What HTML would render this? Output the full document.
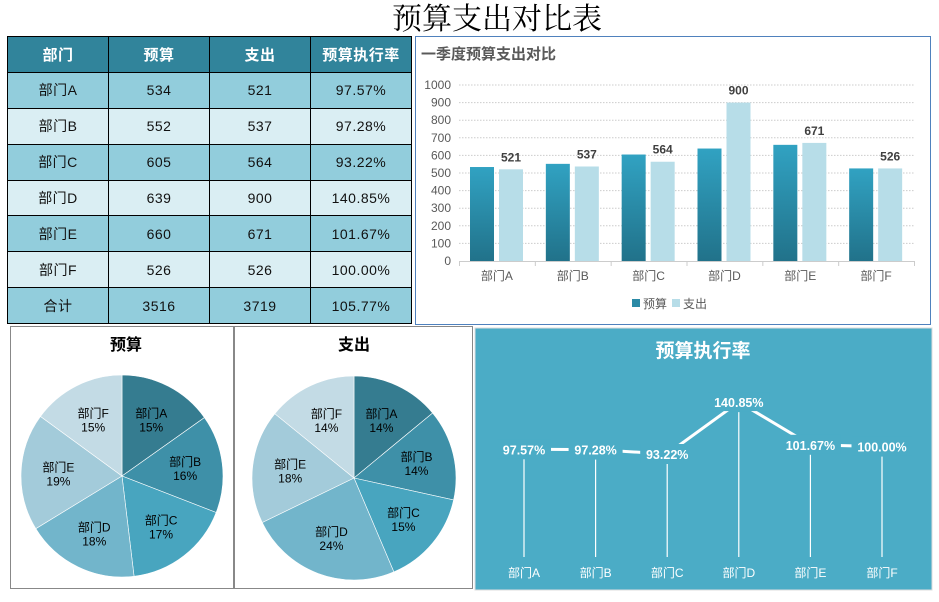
<!DOCTYPE html>
<html><head><meta charset="utf-8">
<style>
body{margin:0;width:939px;height:602px;background:#fff;position:relative;overflow:hidden;font-family:"Liberation Sans","Noto Sans CJK SC",sans-serif}
.abs{position:absolute}
table{border-collapse:collapse;position:absolute;left:7px;top:36px}
td{border:1.5px solid #000;width:100px;height:34.9px;text-align:center;font-size:14px;font-family:"Liberation Sans","Noto Sans CJK SC",sans-serif;color:#111;padding:0;letter-spacing:0.5px}
tr.h td{background:#31849B;color:#fff;font-weight:bold;font-size:15px}
tr.o td{background:#92CDDC}
tr.e td{background:#DAEEF3}
</style></head><body>
<div class="abs" style="left:0;width:994px;top:0;text-align:center;font-size:30px;font-family:'Liberation Serif','Noto Serif CJK SC',serif;line-height:40px">预算支出对比表</div>
<table>
<tr class="h"><td>部门</td><td>预算</td><td>支出</td><td>预算执行率</td></tr>
<tr class="o"><td>部门A</td><td>534</td><td>521</td><td>97.57%</td></tr>
<tr class="e"><td>部门B</td><td>552</td><td>537</td><td>97.28%</td></tr>
<tr class="o"><td>部门C</td><td>605</td><td>564</td><td>93.22%</td></tr>
<tr class="e"><td>部门D</td><td>639</td><td>900</td><td>140.85%</td></tr>
<tr class="o"><td>部门E</td><td>660</td><td>671</td><td>101.67%</td></tr>
<tr class="e"><td>部门F</td><td>526</td><td>526</td><td>100.00%</td></tr>
<tr class="o"><td>合计</td><td>3516</td><td>3719</td><td>105.77%</td></tr>
</table>
<svg class="abs" style="left:0;top:0" width="939" height="602" id="s">
<defs><linearGradient id="g" x1="0" y1="0" x2="0" y2="1"><stop offset="0" stop-color="#31A2C2"/><stop offset="1" stop-color="#21728A"/></linearGradient></defs>
<rect x="415.5" y="36.5" width="515" height="288" fill="#fff" stroke="#4F81BD"/>
<text x="421" y="59" font-size="15" font-weight="bold" fill="#595959">一季度预算支出对比</text>
<rect x="10.5" y="326.5" width="223" height="262" fill="#fff" stroke="#888"/>
<rect x="234.5" y="326.5" width="238" height="262" fill="#fff" stroke="#888"/>
<text x="126" y="350" font-size="16" font-weight="bold" text-anchor="middle">预算</text>
<text x="354" y="350" font-size="16" font-weight="bold" text-anchor="middle">支出</text>
<rect x="475" y="328" width="457" height="262" fill="#4BACC6" stroke="#ddd"/>
<text x="703" y="357" font-size="19" font-weight="bold" fill="#fff" text-anchor="middle">预算执行率</text>
<g id="bar"></g><g id="pie"></g><g id="line"></g>
</svg>
<script>
const cats=['部门A','部门B','部门C','部门D','部门E','部门F'];
const budget=[534,552,605,639,660,526];
const spend=[521,537,564,900,671,526];
const rate=[97.57,97.28,93.22,140.85,101.67,100.00];
const yTicks=[0,100,200,300,400,500,600,700,800,900,1000];
const NS='http://www.w3.org/2000/svg';
function mk(p,t,a,txt){const e=document.createElementNS(NS,t);for(const k in a)e.setAttribute(k,a[k]);if(txt!=null)e.textContent=txt;p.appendChild(e);return e;}
// bar chart
const B=document.getElementById('bar');
const x0=459,x1=914,yb=261,yt=85;
const Y=v=>yb-(v/1000)*(yb-yt);
const gw=(x1-x0)/cats.length;
yTicks.forEach(t=>{
 if(t>0){const l=mk(B,'line',{x1:x0,x2:x1,y1:Y(t),y2:Y(t),stroke:'#ccc','stroke-dasharray':'1.5 1.5'});}
 const tx=mk(B,'text',{x:451,y:Y(t)+4,'font-size':12,fill:'#595959','text-anchor':'end'},t);
 
});
mk(B,'line',{x1:x0,x2:x1,y1:yb+.5,y2:yb+.5,stroke:'#ccc'});
cats.forEach((c,i)=>{
 const gx=x0+i*gw;
 mk(B,'line',{x1:gx+.5,x2:gx+.5,y1:yb,y2:yb+5,stroke:'#ccc'});
 const r1=mk(B,'rect',{x:gx+11,y:Y(budget[i]),width:24,height:yb-Y(budget[i]),fill:'url(#g)'});
 
 const r2=mk(B,'rect',{x:gx+40,y:Y(spend[i]),width:24,height:yb-Y(spend[i]),fill:'#B7DDE8'});
 
 const lb=mk(B,'text',{x:gx+52,y:Y(spend[i])-8,'font-size':12,'font-weight':'bold',fill:'#404040','text-anchor':'middle'},spend[i]);
 
 const cl=mk(B,'text',{x:gx+gw/2,y:280,'font-size':12,fill:'#595959','text-anchor':'middle'},c);
 
});
mk(B,'line',{x1:x1+.5,x2:x1+.5,y1:yb,y2:yb+5,stroke:'#ccc'});
const lg=mk(B,'g',{});
mk(lg,'rect',{x:632,y:299,width:8,height:8,fill:'#2B8AA6'});mk(lg,'text',{x:643,y:308,'font-size':12,fill:'#595959'},'预算');
mk(lg,'rect',{x:672,y:299,width:8,height:8,fill:'#B7DDE8'});mk(lg,'text',{x:683,y:308,'font-size':12,fill:'#595959'},'支出');
// pies
const P=document.getElementById('pie');
const cols=['#357C90','#3E90A8','#48A5BF','#72B5CB','#A3CBDA','#C3DBE5'];
function pie(vals,cx,cy,r,name){
 const tot=vals.reduce((a,b)=>a+b,0);let a=0;
 vals.forEach((v,i)=>{
  const a2=a+v/tot*2*Math.PI;
  const p=(t,rr)=>[cx+rr*Math.sin(t),cy-rr*Math.cos(t)];
  const [sx,sy]=p(a,r),[ex,ey]=p(a2,r);
  const s=mk(P,'path',{d:`M${cx},${cy}L${sx},${sy}A${r},${r} 0 ${a2-a>Math.PI?1:0} 1 ${ex},${ey}Z`,fill:cols[i],stroke:'#fff','stroke-width':0.6});
  
  const [lx,ly]=p((a+a2)/2,r*0.63);
  const t1=mk(P,'text',{x:lx,y:ly-2,'font-size':12,'text-anchor':'middle',fill:'#000'},cats[i]);
  
  mk(P,'text',{x:lx,y:ly+12,'font-size':12,'text-anchor':'middle',fill:'#000'},Math.round(v/tot*100)+'%');
  a=a2;
 });
}
pie(budget,122,476,101,'budget-pie');
pie(spend,354,478,102,'spend-pie');
// line
const L=document.getElementById('line');
const lx0=524,ldx=71.6;
const LY=v=>454-(v-93.22)*1.09;
const pts=rate.map((v,i)=>[lx0+i*ldx,LY(v)]);
const pl=mk(L,'polyline',{points:pts.map(p=>p.join(',')).join(' '),fill:'none',stroke:'#fff','stroke-width':3});

rate.forEach((v,i)=>{
 const [x,y]=pts[i];
 const s=v.toFixed(2)+'%';
 const w=s.length*7+12;
 mk(L,'line',{x1:x,x2:x,y1:y+10,y2:557,stroke:'#fff','stroke-width':1.2});
 mk(L,'rect',{x:x-w/2,y:y-10,width:w,height:19,fill:'#4BACC6'});
 const t=mk(L,'text',{x:x,y:y+5,'font-size':12.5,'font-weight':'bold',fill:'#fff','text-anchor':'middle'},s);
 
 const c=mk(L,'text',{x:x,y:577,'font-size':12,fill:'#fff','text-anchor':'middle'},cats[i]);
 
});
</script>
</body></html>
